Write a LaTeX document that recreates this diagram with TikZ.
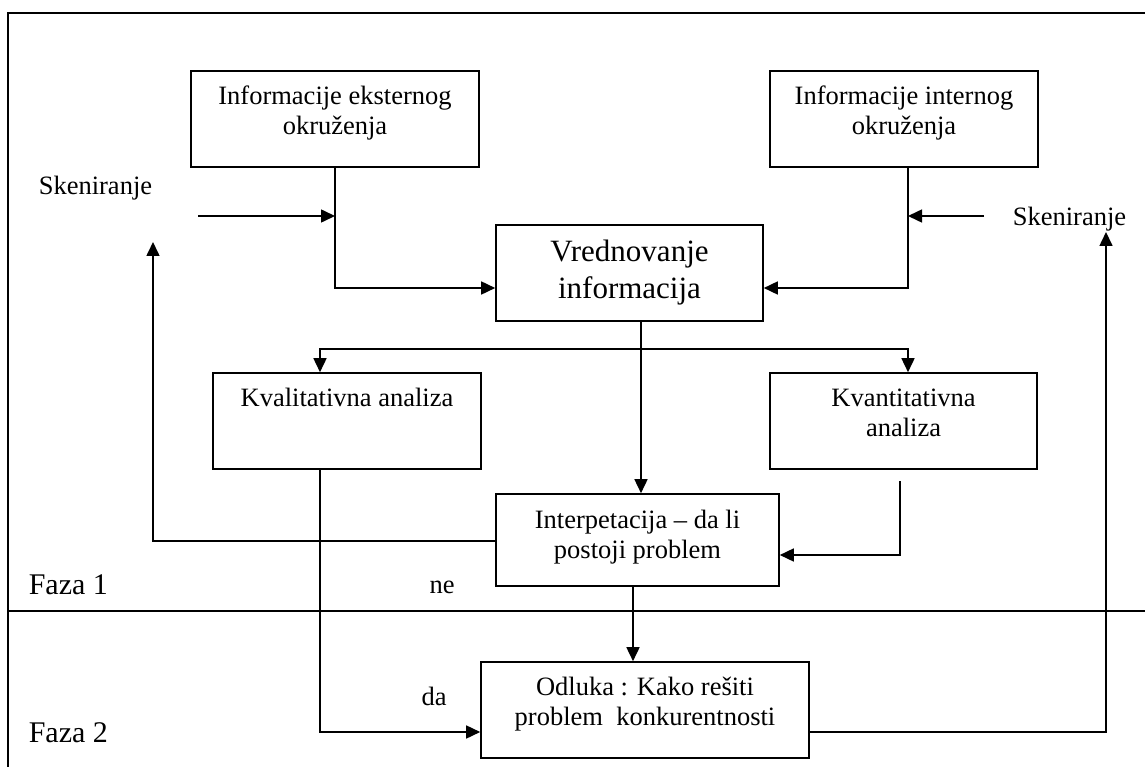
\documentclass[tikz,border=0pt]{standalone}
\usepackage{fontspec}
\setmainfont{Liberation Serif}
\usetikzlibrary{arrows.meta}
\begin{document}
\begin{tikzpicture}[x=1pt,y=-1pt,
  line width=1.6pt,
  box/.style={draw, line width=1.6pt, inner sep=0pt, align=center, font=\fontsize{26.5}{30}\selectfont},
  arr/.style={-{Triangle[length=14pt,width=13pt]}},
  lbl/.style={inner sep=0pt, font=\fontsize{26.5}{30}\selectfont},
  faza/.style={inner sep=0pt, font=\fontsize{30}{34}\selectfont}
]
\useasboundingbox (0,0) rectangle (1145,767);
% frame and phase separator
\draw (8,767) -- (8,13) -- (1145,13);
\draw (8,611) -- (1145,611);

% boxes
\node[box, minimum width=288pt, minimum height=96pt, text depth=17pt] (ext) at (335,119) {Informacije eksternog\\okruženja};
\node[box, minimum width=268pt, minimum height=96pt, text depth=17pt] (intn) at (904,119) {Informacije internog\\okruženja};
\node[box, minimum width=267pt, minimum height=96pt, font=\fontsize{31}{37}\selectfont] (vred) at (629.5,273) {Vrednovanje\\informacija};
\node[box, minimum width=268pt, minimum height=96pt, text depth=18pt] (kval) at (347,421) {Kvalitativna analiza\\\mbox{}};
\node[box, minimum width=267pt, minimum height=96pt, text depth=17pt] (kvant) at (903.5,421) {Kvantitativna\\analiza};
\node[box, minimum width=283pt, minimum height=92pt, text depth=11pt] (interp) at (637.5,540) {Interpetacija – da li\\postoji problem};
\node[box, minimum width=328pt, minimum height=96pt, text depth=17pt] (odl) at (645,710) {Odluka : Kako rešiti\\problem\ \ konkurentnosti};

% labels
\node[lbl, anchor=base west] (skl) at (38,195) {Skeniranje};
\node[lbl, anchor=base west] (skr) at (1012,226) {Skeniranje};
\node[faza, anchor=base west] (f1) at (28,594) {Faza 1};
\node[faza, anchor=base west] (f2) at (28,742) {Faza 2};
\node[lbl, anchor=base] (ne) at (442,593) {ne};
\node[lbl, anchor=base] (da) at (434,705) {da};

% helper coordinates
\coordinate (sl) at (198,216);
\coordinate (sle) at (335,216);
\coordinate (sr) at (984,216);
\coordinate (sre) at (908,216);
\coordinate (ea) at (335,288);
\coordinate (ia) at (908,288);
\coordinate (vx) at (641,349);
\coordinate (kl) at (320,349);
\coordinate (kr) at (908,349);
\coordinate (kvs) at (900,481);
\coordinate (ky) at (900,555);
\coordinate (lx) at (153,541);
\coordinate (lt) at (153,242);
\coordinate (rx) at (1106,732);
\coordinate (rt) at (1106,232);
\coordinate (dx) at (320,732);

% connectors
\draw[arr] (sl) -- (sle);
\draw[arr] (sr) -- (sre);
\draw[arr] (ext.south) -- (ea) -- (vred.west |- ea);
\draw[arr] (intn.south -| ia) -- (ia) -- (vred.east |- ia);
\draw[arr] (vred.south -| vx) -- (interp.north -| vx);
\draw[arr] (kl -| vx) -- (kl) -- (kval.north -| kl);
\draw[arr] (kr -| vx) -- (kr) -- (kvant.north -| kr);
\draw[arr] (kval.south -| kl) -- (dx) -- (odl.west |- dx);
\draw[arr] (kvs) -- (ky) -- (interp.east |- ky);
\draw[arr] (interp.west |- lx) -- (lx) -- (lt);
\draw[arr] (odl.east |- rx) -- (rx) -- (rt);
\draw[arr] (interp.south -| 633,0) -- (odl.north -| 633,0);
\end{tikzpicture}
\end{document}
